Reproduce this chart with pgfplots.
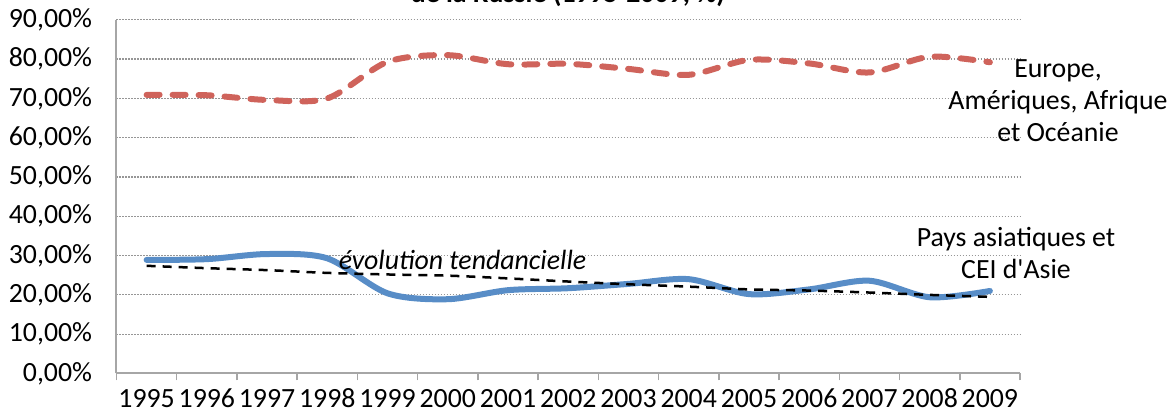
\documentclass[border=0pt]{standalone}
\usepackage{pgfplots}
\pgfplotsset{compat=1.18}
\usepackage{fontspec}
\setmainfont{Carlito}[Ligatures=TeXOff]
\definecolor{redl}{RGB}{207,99,91}
\definecolor{bluel}{RGB}{88,141,199}
\definecolor{axgray}{RGB}{166,166,166}
\definecolor{gridgray}{RGB}{150,150,150}
\begin{document}
\fontsize{27.8pt}{33pt}\selectfont
\begin{tikzpicture}
\begin{axis}[
  at={(0pt,0pt)}, anchor=south west,
  scale only axis, width=903.5pt, height=353.7pt,
  xmin=0, xmax=15, ymin=0, ymax=90,
  axis x line=bottom, axis y line=left,
  axis line style={-, draw=axgray, line width=2pt},
  ytick={0,10,20,30,40,50,60,70,80,90},
  yticklabels={{0,00\%},{10,00\%},{20,00\%},{30,00\%},{40,00\%},{50,00\%},{60,00\%},{70,00\%},{80,00\%},{90,00\%}},
  xtick={0.5,1.5,2.5,3.5,4.5,5.5,6.5,7.5,8.5,9.5,10.5,11.5,12.5,13.5,14.5},
  xticklabels={1995,1996,1997,1998,1999,2000,2001,2002,2003,2004,2005,2006,2007,2008,2009},
  minor xtick={0,1,2,3,4,5,6,7,8,9,10,11,12,13,14,15},
  major tick length=0pt, minor tick length=7pt, tick align=outside,
  xtick style={draw=axgray, line width=1.5pt},
  ytick style={draw=none},
  ymajorgrids,
  major grid style={draw=gridgray, line width=1.2pt, dash pattern=on 1.2pt off 1.8pt},
  xticklabel style={anchor=base, yshift=-34pt, font=\fontsize{27.8pt}{33pt}\selectfont},
  yticklabel style={anchor=east, xshift=-15pt, font=\fontsize{27.8pt}{33pt}\selectfont},
]
\addplot[redl, line width=6pt, line cap=round, dash pattern=on 13pt off 13pt, smooth] coordinates {
(0.5,70.9) (1.5,70.8) (2.5,69.6) (3.5,70.0) (4.5,79.3) (5.5,81.0) (6.5,78.7) (7.5,78.8)
(8.5,77.5) (9.5,76.0) (10.5,79.8) (11.5,78.9) (12.5,76.6) (13.5,80.6) (14.5,79.2)};
\addplot[bluel, line width=6pt, line cap=round, smooth] coordinates {
(0.5,28.9) (1.5,29.1) (2.5,30.4) (3.5,29.3) (4.5,20.4) (5.5,18.9) (6.5,21.2) (7.5,21.7)
(8.5,22.8) (9.5,24.0) (10.5,20.2) (11.5,21.4) (12.5,23.6) (13.5,19.4) (14.5,21.0)};
\addplot[black, line width=2.5pt, dash pattern=on 9pt off 7pt, smooth] coordinates {
(0.5,27.4) (1.5,26.8) (2.5,26.3) (3.5,25.6) (4.5,25.2) (5.5,24.9) (6.5,24.2) (7.5,23.4)
(8.5,22.7) (9.5,22.1) (10.5,21.4) (11.5,21.1) (12.5,20.6) (13.5,20.0) (14.5,19.5)};
\end{axis}
\node[anchor=base, font=\bfseries] at (451.5pt,370.5pt) {de la Russie (1995-2009, \%)};
\node[anchor=base] at (941.5pt,295.5pt) {Europe,};
\node[anchor=base] at (941.5pt,264pt) {Amériques, Afrique};
\node[anchor=base] at (941.5pt,231.8pt) {et Océanie};
\node[anchor=base] at (899.5pt,126.8pt) {Pays asiatiques et};
\node[anchor=base] at (899.5pt,95.2pt) {CEI d'Asie};
\node[anchor=base, font=\itshape] at (346pt,103.5pt) {évolution tendancielle};
\pgfresetboundingbox
\useasboundingbox (-116.5pt,-45.5pt) rectangle (1054.5pt,373.5pt);
\end{tikzpicture}
\end{document}
